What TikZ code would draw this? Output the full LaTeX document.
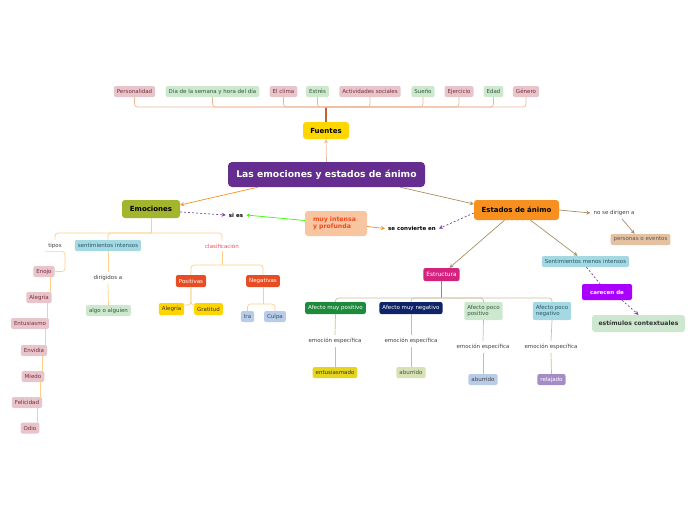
\documentclass[tikz,border=0pt]{standalone}
\usepackage{fontspec}
\setmainfont{DejaVu Sans}
\usetikzlibrary{arrows.meta,positioning}
\definecolor{pinkfill}{HTML}{E8C5CB}
\definecolor{pinktext}{HTML}{7A2A3A}
\definecolor{greenfill}{HTML}{CDE8CF}
\definecolor{greentext}{HTML}{2F5A38}
\definecolor{bluefill}{HTML}{A4D8E3}
\definecolor{bluetext}{HTML}{2C5566}
\definecolor{lightblue}{HTML}{B8CBE8}
\definecolor{mainpurple}{HTML}{662D91}
\definecolor{fuentesyellow}{HTML}{FFD700}
\definecolor{emoolive}{HTML}{A2B52D}
\definecolor{estorange}{HTML}{F7901E}
\definecolor{peach}{HTML}{F7C59F}
\definecolor{peachtext}{HTML}{F04A20}
\definecolor{clasred}{HTML}{E0506B}
\definecolor{posneg}{HTML}{E84C22}
\definecolor{goldbox}{HTML}{FFD500}
\definecolor{estrmagenta}{HTML}{D4237F}
\definecolor{afpos}{HTML}{1E8B3C}
\definecolor{afneg}{HTML}{0F2468}
\definecolor{entyellow}{HTML}{E6D51E}
\definecolor{aburolive}{HTML}{D6E2B4}
\definecolor{relpurple}{HTML}{A58CC6}
\definecolor{tanfill}{HTML}{E3C1A1}
\definecolor{carpurple}{HTML}{AA00FF}
\definecolor{dashpurple}{HTML}{7B3FA0}
\definecolor{srcline}{HTML}{EDB899}
\definecolor{srcstem}{HTML}{C0622E}
\definecolor{emotree}{HTML}{FDCF8A}
\definecolor{estrtree}{HTML}{CDBE9A}
\definecolor{estrstem}{HTML}{A08A5A}
\definecolor{brownarrow}{HTML}{A88F62}
\newcommand{\tinyfs}{\fontsize{5.5}{6.6}\selectfont}

\begin{document}
\begin{tikzpicture}[x=1pt, y=-1pt,
  box/.style={rounded corners=2pt, inner xsep=3pt, inner ysep=0pt,
    minimum height=11pt, font=\tinyfs},
  pinkbox/.style={box, fill=pinkfill, text=pinktext},
  greenbox/.style={box, fill=greenfill, text=greentext},
  bluebox/.style={box, fill=bluefill, text=bluetext},
  lbl/.style={font=\tinyfs, inner sep=3pt, text=black!75},
  bigbox/.style={rounded corners=3pt, font=\bfseries\fontsize{7}{8.4}\selectfont},
  arr/.style={-{Stealth[length=4pt, width=4pt]}, line width=0.7pt},
  dasharr/.style={arr, draw=dashpurple, dash pattern=on 2pt off 2pt},
  srctree/.style={draw=srcline, line width=0.7pt, rounded corners=3pt},
  emoline/.style={draw=emotree, line width=0.7pt, rounded corners=3pt},
  estline/.style={draw=estrtree, line width=0.7pt, rounded corners=3pt}]
  \useasboundingbox (0,0) rectangle (696,520);

  % Fuentes and its list
  \node[pinkbox] (personalidad) at (134.5,91.5) {Personalidad};
  \node[greenbox] (dia) at (212.5,91.5) {Día de la semana y hora del día};
  \node[pinkbox] (clima) at (283.5,91.5) {El clima};
  \node[greenbox] (estres) at (317.5,91.5) {Estrés};
  \node[pinkbox] (actividades) at (370,91.5) {Actividades sociales};
  \node[greenbox] (sueno) at (423,91.5) {Sueño};
  \node[pinkbox] (ejercicio) at (459,91.5) {Ejercicio};
  \node[greenbox] (edad) at (493.5,91.5) {Edad};
  \node[pinkbox] (genero) at (526,91.5) {Género};

  \node[bigbox, fill=fuentesyellow, minimum width=46pt, minimum height=17pt]
    (fuentes) at (326,130.5) {Fuentes};
  \coordinate (srcbar) at (326,107);
  \draw[draw=srcstem, line width=1.2pt] (fuentes.north) -- (srcbar);
  \foreach \n in {personalidad,dia,clima,estres,actividades,sueno,ejercicio,edad,genero}
    \draw[srctree] (srcbar) -| (\n.south);

  % central topic
  \node[rounded corners=4pt, fill=mainpurple, text=white, minimum width=197pt,
    minimum height=25pt, font=\bfseries\fontsize{9.2}{11}\selectfont]
    (main) at (326.5,174.5) {Las emociones y estados de ánimo};
  \draw[arr, draw=srcline] (main.north) -- (fuentes.south);

  \node[bigbox, fill=emoolive, minimum width=58pt, minimum height=18pt]
    (emociones) at (151,209) {Emociones};
  \node[bigbox, fill=estorange, minimum width=85pt, minimum height=20pt]
    (estados) at (516.5,210) {Estados de ánimo};
  \draw[arr, draw=estorange] ([xshift=30pt]main.south west) -- ([yshift=4pt]emociones.east);
  \draw[arr, draw=brownarrow] ([xshift=-25pt]main.south east) -- ([yshift=6pt]estados.west);

  % si es / se convierte en
  \node[lbl, font=\bfseries\tinyfs, text=black] (sies) at (236,215) {si es};
  \node[rounded corners=3pt, fill=peach, text=peachtext, align=left,
    minimum width=62pt, minimum height=25pt, text width=46pt,
    font=\bfseries\fontsize{6.2}{7.2}\selectfont]
    (intensa) at (336,223.5) {muy intensa\\y profunda};
  \node[lbl, font=\bfseries\tinyfs, text=black] (convierte) at (412,228.5) {se convierte en};
  \draw[dasharr] ([yshift=-3pt]emociones.east) -- (sies.west);
  \draw[arr, draw=green!80!yellow] ([yshift=3pt]intensa.west) -- (sies.east);
  \draw[arr, draw=estorange] ([yshift=-3pt]intensa.east) -- (convierte.west);
  \draw[dasharr] ([yshift=-3pt]estados.west) -- (convierte.east);

  % Emociones tree
  \node[lbl] (tipos) at (55,245.5) {tipos};
  \node[bluebox] (sentint) at (108,245.5) {sentimientos intensos};
  \node[lbl, text=clasred] (clasif) at (222,246) {clasificación};
  \coordinate (emobar) at (151,233);
  \draw[emoline] (emociones.south) -- (emobar);
  \foreach \n in {tipos,sentint,clasif}
    \draw[emoline] (emobar) -| (\n.north);

  % tipos
  \node[pinkbox] (enojo) at (44,271.5) {Enojo};
  \node[pinkbox] (alegria) at (39,297.5) {Alegría};
  \node[pinkbox] (entusiasmo) at (30,323.5) {Entusiasmo};
  \node[pinkbox] (envidia) at (34,350.5) {Envidia};
  \node[pinkbox] (miedo) at (33,376.5) {Miedo};
  \node[pinkbox] (felicidad) at (27,402.5) {Felicidad};
  \node[pinkbox] (odio) at (30,428) {Odio};
  \draw[emoline] (tipos.south west) -- (tipos.south east) |- (enojo.east);
  \foreach \a/\b in {enojo/alegria,alegria/entusiasmo,entusiasmo/envidia,
      envidia/miedo,miedo/felicidad,felicidad/odio}
    \draw[emoline] ([xshift=-2pt]\b.north east) -- ([xshift=-2pt]\b.north east |- \a.south);

  % sentimientos intensos
  \node[lbl] (dirigidos) at (108,278) {dirigidos a};
  \node[greenbox] (algo) at (108.5,310.5) {algo o alguien};
  \draw[emoline] (sentint.south) -- (dirigidos.north);
  \draw[emoline] (dirigidos.south) -- (algo.north);

  % clasificacion
  \node[box, fill=posneg, text=white, minimum height=12pt] (positivas) at (191,281) {Positivas};
  \node[box, fill=posneg, text=white, minimum height=12pt] (negativas) at (263,281) {Negativas};
  \coordinate (clasbar) at (222,265);
  \draw[emoline] (clasif.south) -- (clasbar);
  \draw[emoline] (clasbar) -| (positivas.north);
  \draw[emoline] (clasbar) -| (negativas.north);

  \node[box, fill=goldbox, text=black!80, minimum height=12pt] (alegria2) at (171.5,309) {Alegría};
  \node[box, fill=goldbox, text=black!80, minimum height=12pt] (gratitud) at (208.5,309) {Gratitud};
  \draw[emoline] (positivas.south) |- ([yshift=4pt]alegria2.east);
  \draw[emoline] (positivas.south) |- ([yshift=4pt]gratitud.west);

  \node[box, fill=lightblue, text=bluetext] (ira) at (247.5,316.5) {Ira};
  \node[box, fill=lightblue, text=bluetext] (culpa) at (275,316.5) {Culpa};
  \coordinate (negbar) at (263,304);
  \draw[emoline] (negativas.south) -- (negbar);
  \draw[emoline] (negbar) -| (ira.north);
  \draw[emoline] (negbar) -| (culpa.north);

  % Estados de animo
  \node[lbl] (nodirigen) at (614,213) {no se dirigen a};
  \node[box, fill=tanfill, text=black!65] (personas) at (640.5,239.5) {personas o eventos};
  \node[bluebox] (sentmenos) at (585.5,261.5) {Sentimientos menos intensos};
  \node[rounded corners=2pt, fill=carpurple, text=white, minimum width=50pt,
    minimum height=16pt, font=\bfseries\tinyfs] (carecen) at (607,292) {carecen de};
  \node[rounded corners=3pt, fill=greenfill, text=black!80, minimum width=93pt,
    minimum height=17pt, font=\bfseries\fontsize{6.1}{7.2}\selectfont]
    (estimulos) at (638.5,323.5) {estímulos contextuales};
  \node[box, fill=estrmagenta, text=white, minimum height=13pt,
    font=\fontsize{5.8}{6.8}\selectfont] (estructura) at (441.5,274.5) {Estructura};

  \draw[arr, draw=brownarrow] (estados.east) -- (nodirigen.west);
  \draw[arr, draw=brownarrow] ([xshift=8pt]nodirigen.south) -- ([xshift=-6pt]personas.north);
  \draw[arr, draw=brownarrow] ([xshift=-12pt]estados.south) -- ([xshift=8pt]estructura.north);
  \draw[arr, draw=brownarrow] ([xshift=14pt]estados.south) -- ([xshift=-8pt]sentmenos.north);
  \draw[dasharr, -] ([xshift=1pt]sentmenos.south) -- ([xshift=-7pt]carecen.north);
  \draw[dasharr] ([xshift=15pt]carecen.south) -- (estimulos.north);

  % Estructura tree
  \node[box, fill=afpos, text=white, minimum height=12pt] (afmpos) at (335.5,308) {Afecto muy positivo};
  \node[box, fill=afneg, text=white, minimum height=12pt] (afmneg) at (411,308) {Afecto muy negativo};
  \node[box, fill=greenfill, text=greentext, align=left, minimum height=18pt]
    (afppos) at (483.5,311) {Afecto poco\\positivo};
  \node[box, fill=bluefill, text=bluetext, align=left, minimum height=18pt]
    (afpneg) at (552,311) {Afecto poco\\negativo};
  \coordinate (estbar) at (441.5,298);
  \draw[draw=estrstem, line width=1.2pt] (estructura.south) -- (estbar);
  \foreach \n in {afmpos,afmneg,afppos,afpneg}
    \draw[estline] (estbar) -| (\n.north);

  \node[lbl] (emo1) at (335,341) {emoción específica};
  \node[lbl] (emo2) at (411,341) {emoción específica};
  \node[lbl] (emo3) at (483,347) {emoción específica};
  \node[lbl] (emo4) at (551,347) {emoción específica};
  \node[box, fill=entyellow, text=black!80] (entusiasmado) at (335,372.5) {entusiasmado};
  \node[box, fill=aburolive, text=black!70] (aburrido1) at (411,372.5) {aburrido};
  \node[box, fill=lightblue, text=black!75] (aburrido2) at (483,379.5) {aburrido};
  \node[box, fill=relpurple, text=white] (relajado) at (551.5,379.5) {relajado};
  \foreach \a/\b/\c in {afmpos/emo1/entusiasmado,afmneg/emo2/aburrido1,
      afppos/emo3/aburrido2,afpneg/emo4/relajado} {
    \draw[estline] (\a.south) -- (\b.north);
    \draw[estline] (\b.south) -- (\c.north);
  }
\end{tikzpicture}
\end{document}
